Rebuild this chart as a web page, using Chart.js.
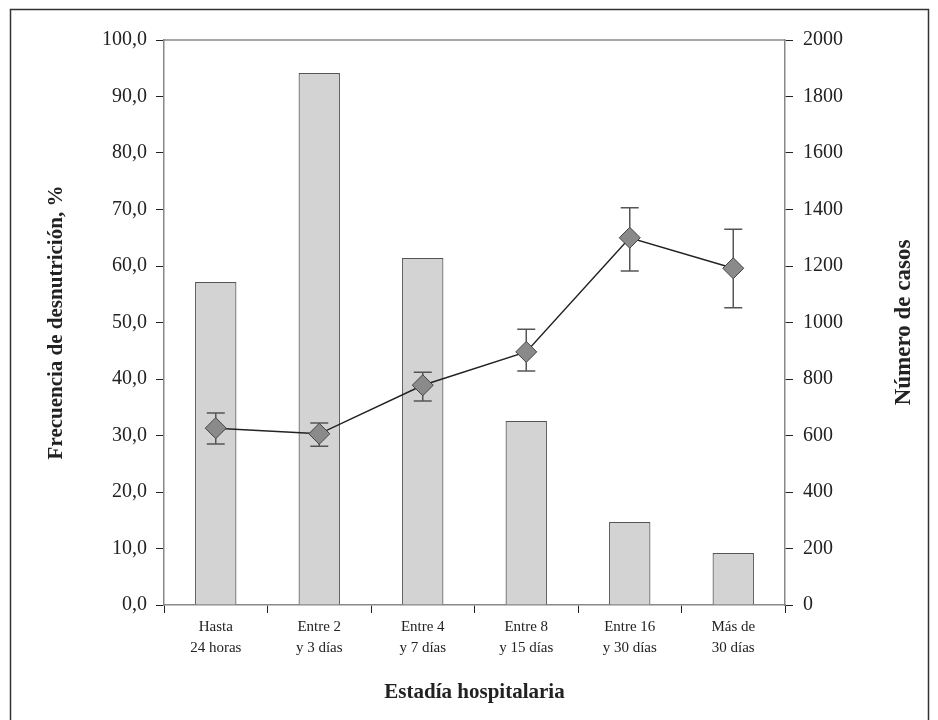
<!DOCTYPE html>
<html>
<head>
<meta charset="utf-8">
<script src="https://cdn.jsdelivr.net/npm/chart.js@4.4.1/dist/chart.umd.min.js"></script>
<style>
  html, body { margin: 0; padding: 0; background: #fff; }
  #wrap { width: 938px; height: 720px; }
</style>
</head>
<body>
<div id="wrap"><canvas id="estadia" width="938" height="720"></canvas></div>
<script>
const categories = [
    ["Hasta", "24 horas"],
    ["Entre 2", "y 3 días"],
    ["Entre 4", "y 7 días"],
    ["Entre 8", "y 15 días"],
    ["Entre 16", "y 30 días"],
    ["Más de", "30 días"]
];
// número de casos (eje derecho)
const casos = [1143, 1883, 1228, 651, 294, 184];
// frecuencia de desnutrición, % (eje izquierdo) con sus intervalos
const frecuencia = [31.3, 30.3, 38.9, 44.8, 65.0, 59.6];
const errLow = [28.5, 28.1, 36.1, 41.4, 59.1, 52.6];
const errHigh = [34.0, 32.2, 41.2, 48.8, 70.3, 66.5];

const serif = "'Liberation Serif', 'Times New Roman', serif";
Chart.defaults.font.family = serif;
Chart.defaults.color = "#222";

// marco exterior, linea superior del area y titulo del eje derecho
const extras = {
    id: "extras",
    beforeDraw(chart) {
        const ctx = chart.ctx;
        ctx.save();
        ctx.strokeStyle = "#333";
        ctx.lineWidth = 1.5;
        ctx.strokeRect(10.5, 9.5, 918, 800);
        ctx.restore();
    },
    beforeDatasetDraw(chart, args) {
        if (args.meta.type !== "line") return;
        const ctx = chart.ctx;
        const y = chart.scales.y;
        ctx.save();
        ctx.strokeStyle = "#555";
        ctx.lineWidth = 1.5;
        args.meta.data.forEach((pt, i) => {
            const top = y.getPixelForValue(errHigh[i]);
            const bot = y.getPixelForValue(errLow[i]);
            ctx.beginPath();
            ctx.moveTo(pt.x, top);
            ctx.lineTo(pt.x, bot);
            ctx.moveTo(pt.x - 9, top);
            ctx.lineTo(pt.x + 9, top);
            ctx.moveTo(pt.x - 9, bot);
            ctx.lineTo(pt.x + 9, bot);
            ctx.stroke();
        });
        ctx.restore();
    },
    afterDraw(chart) {
        const ctx = chart.ctx;
        const a = chart.chartArea;
        ctx.save();
        ctx.strokeStyle = "#888";
        ctx.lineWidth = 1.5;
        ctx.beginPath();
        ctx.moveTo(a.left, a.top);
        ctx.lineTo(a.right, a.top);
        ctx.stroke();
        ctx.translate(904, (a.top + a.bottom) / 2);
        ctx.rotate(-Math.PI / 2);
        ctx.fillStyle = "#222";
        ctx.font = "bold 23px " + serif;
        ctx.textAlign = "center";
        ctx.textBaseline = "middle";
        ctx.fillText("Número de casos", 0, 0);
        ctx.restore();
    }
};

new Chart(document.getElementById("estadia"), {
    data: {
        labels: categories,
        datasets: [
            {
                type: "line",
                label: "Frecuencia de desnutrición",
                data: frecuencia,
                yAxisID: "y",
                order: 0,
                borderColor: "#222",
                borderWidth: 1.5,
                pointStyle: "rectRot",
                pointRadius: 10.5,
                pointHoverRadius: 10.5,
                pointBackgroundColor: "#8a8a8a",
                pointBorderColor: "#444",
                pointBorderWidth: 1
            },
            {
                type: "bar",
                label: "Número de casos",
                data: casos,
                yAxisID: "y1",
                order: 1,
                backgroundColor: "#d3d3d3",
                borderColor: "#555",
                borderWidth: 1.2,
                barPercentage: 0.4,
                categoryPercentage: 1
            }
        ]
    },
    options: {
        responsive: false,
        animation: false,
        layout: { padding: { top: 40, left: 0, right: 0, bottom: 0 } },
        plugins: {
            legend: { display: false },
            tooltip: { enabled: false }
        },
        scales: {
            x: {
                grid: { drawOnChartArea: false, offset: true, color: "#222", tickLength: 8 },
                border: { color: "#888", width: 1.5 },
                ticks: { font: { size: 15, lineHeight: 1.4 }, padding: 4, maxRotation: 0 },
                title: {
                    display: true,
                    text: "Estadía hospitalaria",
                    font: { size: 21, weight: "bold" },
                    padding: { top: 0, bottom: 15 }
                },
                afterFit(scale) { scale.height = 115; }
            },
            y: {
                position: "left",
                min: 0,
                max: 100,
                ticks: {
                    stepSize: 10,
                    padding: 9,
                    font: { size: 20 },
                    callback: v => v.toFixed(1).replace(".", ",")
                },
                grid: { drawOnChartArea: false, color: "#222", tickLength: 8 },
                border: { color: "#888", width: 1.5 },
                title: {
                    display: true,
                    text: "Frecuencia de desnutrición, %",
                    font: { size: 21, weight: "bold" },
                    padding: { top: 44, bottom: 0 }
                },
                afterFit(scale) { scale.width = 164; }
            },
            y1: {
                position: "right",
                min: 0,
                max: 2000,
                ticks: {
                    stepSize: 200,
                    padding: 10,
                    font: { size: 20 },
                    callback: v => String(v)
                },
                grid: { drawOnChartArea: false, color: "#222", tickLength: 8 },
                border: { color: "#888", width: 1.5 },
                afterFit(scale) { scale.width = 153; }
            }
        }
    },
    plugins: [extras]
});
</script>
</body>
</html>
